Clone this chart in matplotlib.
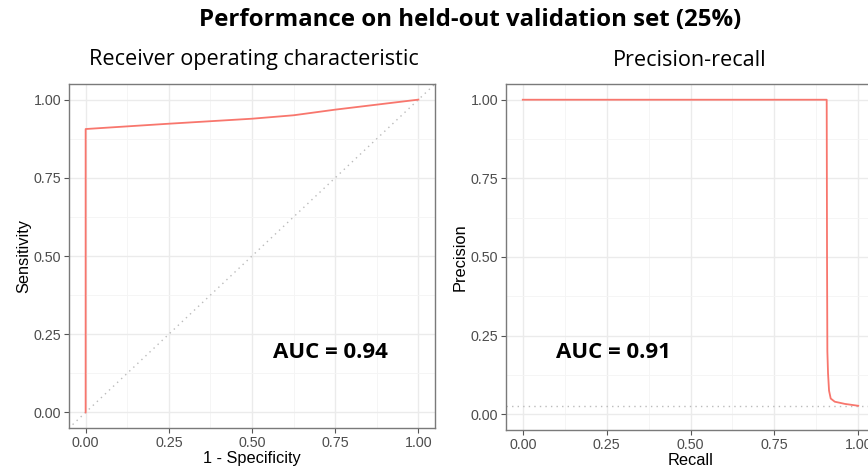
import numpy as np
import matplotlib
matplotlib.use('Agg')
import matplotlib.pyplot as plt

# ROC curve values
roc_fpr = [0.0, 0.0, 0.0, 0.25, 0.5, 0.625, 0.75, 0.875, 1.0]
roc_tpr = [0.0, 0.5, 0.906, 0.923, 0.939, 0.95, 0.968, 0.984, 1.0]
roc_auc = 0.94

# precision-recall values
pr_recall = [0.0, 0.906, 0.907, 0.908, 0.910, 0.913, 0.918, 0.93, 0.96, 1.0]
pr_precision = [1.0, 1.0, 0.5, 0.2, 0.13, 0.075, 0.05, 0.04, 0.033, 0.027]
pr_auc = 0.91
pr_baseline = 0.025

ticks = [0.0, 0.25, 0.5, 0.75, 1.0]
line_col = '#F8766D'
title_font = 'Open Sans'
tick_font = 'Liberation Sans'

fig = plt.figure(figsize=(8.68, 4.71), dpi=100)
ax1 = fig.add_axes([69/868, 1 - 428/471, 366/868, 344/471])
ax2 = fig.add_axes([506/868, 1 - 430/471, 369/868, 346/471])


def style(ax, xlabel, ylabel):
    ax.set_xlim(-0.05, 1.05)
    ax.set_ylim(-0.05, 1.05)
    ax.set_xticks(ticks)
    ax.set_yticks(ticks)
    ax.set_xticks([0.125, 0.375, 0.625, 0.875], minor=True)
    ax.set_yticks([0.125, 0.375, 0.625, 0.875], minor=True)
    ax.set_xticklabels(['%.2f' % t for t in ticks])
    ax.set_yticklabels(['%.2f' % t for t in ticks])
    ax.grid(which='major', color='#EBEBEB', lw=1.0, zorder=0)
    ax.grid(which='minor', color='#F4F4F4', lw=0.6, zorder=0)
    ax.set_axisbelow(True)
    ax.tick_params(which='major', length=3.5, width=0.8, color='#555555',
                   labelsize=10.3, labelcolor='#4D4D4D', pad=2)
    ax.tick_params(which='minor', length=0)
    for lab in ax.get_xticklabels() + ax.get_yticklabels():
        lab.set_fontfamily(tick_font)
    for s in ax.spines.values():
        s.set_color('#7A7A7A')
        s.set_linewidth(1.0)
    ax.set_xlabel(xlabel, fontsize=11.8, family=tick_font, labelpad=1)
    ax.set_ylabel(ylabel, fontsize=11.8, family=tick_font, labelpad=2)


# ROC panel
ax1.plot([-0.1, 1.1], [-0.1, 1.1], color='#BBBBBB', lw=1.0, ls=(0, (1, 3)))
ax1.plot(roc_fpr, roc_tpr, color=line_col, lw=1.3)
style(ax1, '1 - Specificity', 'Sensitivity')
ax1.text(0.563, 0.19, 'AUC = %.2f' % roc_auc, fontsize=16, fontweight='bold',
         family=title_font, va='center', ha='left')
fig.text(254/868, 1 - 60/471, 'Receiver operating characteristic',
         fontsize=15.6, family=title_font, ha='center', va='center')

# precision-recall panel
ax2.axhline(pr_baseline, color='#BBBBBB', lw=1.0, ls=(0, (1, 3)))
ax2.plot(pr_recall, pr_precision, color=line_col, lw=1.3)
style(ax2, 'Recall', 'Precision')
ax2.text(0.10, 0.197, 'AUC = %.2f' % pr_auc, fontsize=16, fontweight='bold',
         family=title_font, va='center', ha='left')
fig.text(690/868, 1 - 60/471, 'Precision-recall', fontsize=15.6,
         family=title_font, ha='center', va='center')

fig.text(470/868, 1 - 20/471, 'Performance on held-out validation set (25%)',
         fontsize=17.3, fontweight='bold', family=title_font,
         ha='center', va='center')

fig.savefig('out.png', dpi=100)
